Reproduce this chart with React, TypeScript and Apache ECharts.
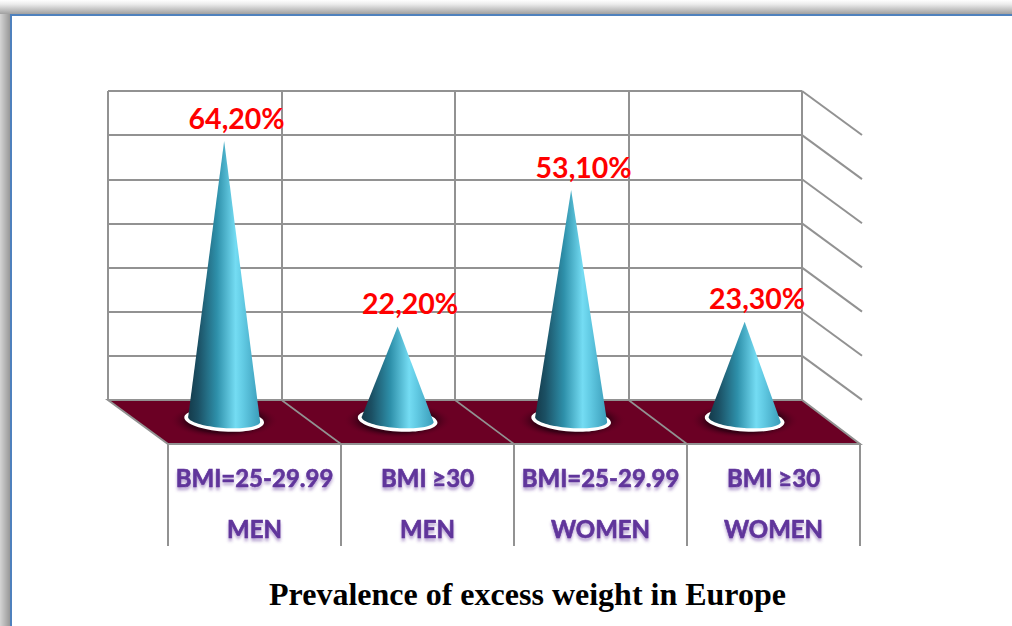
import React, { useEffect, useRef } from "react";
import * as echarts from "echarts";

const bmiLabels = ["BMI=25-29.99", "BMI ≥30", "BMI=25-29.99", "BMI ≥30"];
const sexLabels = ["MEN", "MEN", "WOMEN", "WOMEN"];
const prevalence = [64.2, 22.2, 53.1, 23.3];
const valueLabels = ["64,20%", "22,20%", "53,10%", "23,30%"];
const wallTicks = [10, 20, 30, 40, 50, 60, 70];
const titleText = "Prevalence of excess weight in Europe";

const W = 1012;
const H = 626;
const WALL = { left: 108, top: 91, width: 694, height: 309 };
const FRONT = { left: 168, top: 444, width: 692, height: 102 };
const DEPTH_X = 60;
const DEPTH_Y = 44;
const GRID_GREY = "#929292";

const coneFill = () =>
  new echarts.graphic.LinearGradient(0, 0, 1, 0, [
    { offset: 0, color: "#143a4a" },
    { offset: 0.14, color: "#1b5064" },
    { offset: 0.4, color: "#2e90aa" },
    { offset: 0.66, color: "#74dcf3" },
    { offset: 0.76, color: "#62cbe4" },
    { offset: 1, color: "#3a9cb9" },
  ]);

function renderFloor(params: any) {
  const c = params.coordSys;
  const bottom = c.y + c.height;
  const frontY = bottom + DEPTH_Y;
  const cells = bmiLabels.length;
  const children: any[] = [
    {
      type: "polygon",
      shape: {
        points: [
          [c.x, bottom],
          [c.x + c.width, bottom],
          [FRONT.left + FRONT.width, frontY],
          [FRONT.left, frontY],
        ],
      },
      style: { fill: "#6b0024", stroke: GRID_GREY, lineWidth: 2 },
    },
  ];
  for (let i = 1; i < cells; i++) {
    children.push({
      type: "line",
      shape: {
        x1: c.x + (c.width * i) / cells,
        y1: bottom,
        x2: FRONT.left + (FRONT.width * i) / cells,
        y2: frontY,
      },
      style: { stroke: GRID_GREY, lineWidth: 1.6 },
    });
  }
  return { type: "group", children };
}

function renderSideLine(params: any, api: any) {
  const c = params.coordSys;
  const y = api.coord([0, api.value(0)])[1];
  const x = c.x + c.width;
  return {
    type: "line",
    shape: { x1: x, y1: y, x2: x + DEPTH_X, y2: y + DEPTH_Y },
    style: { stroke: GRID_GREY, lineWidth: 2 },
  };
}

function renderCone(params: any, api: any) {
  const idx = api.value(0);
  const top = api.coord([idx, api.value(1)]);
  const zero = api.coord([idx, 0]);
  const band = api.size([1, 0])[0];
  const cx = top[0] + DEPTH_X * 0.49;
  const cy = zero[1] + 19.5;
  const apexY = top[1] + 24.5;
  const rx = band * 0.208;
  const ry = 8.5;
  const tilt = 0.07;
  const cos = Math.cos(tilt);
  const sin = Math.sin(tilt);
  const pts: number[][] = [[cx, apexY]];
  for (let k = 0; k <= 40; k++) {
    const t = (k / 40) * Math.PI;
    const ex = rx * Math.cos(t);
    const ey = ry * Math.sin(t);
    pts.push([cx + ex * cos - ey * sin, cy + ex * sin + ey * cos]);
  }
  return {
    type: "group",
    children: [
      {
        type: "ellipse",
        shape: { cx, cy: cy + 1, rx: band * 0.315, ry: 18 },
        style: {
          fill: new echarts.graphic.RadialGradient(0.5, 0.5, 0.5, [
            { offset: 0, color: "rgba(45,0,18,0.95)" },
            { offset: 0.68, color: "rgba(45,0,18,0.85)" },
            { offset: 1, color: "rgba(107,0,36,0)" },
          ]),
        },
      },
      {
        type: "ellipse",
        shape: { cx: 0, cy: 0, rx: band * 0.23, ry: 11.5 },
        x: cx,
        y: cy + 0.5,
        rotation: -tilt,
        style: { fill: "#ffffff" },
      },
      { type: "polygon", shape: { points: pts }, style: { fill: coneFill() } },
      {
        type: "text",
        x: cx + 12.5,
        y: apexY - 23.5,
        style: {
          text: valueLabels[idx],
          fill: "#ff0000",
          font: "700 28.5px Lato",
          align: "center",
          verticalAlign: "middle",
        },
      },
    ],
  };
}

export default function App() {
  const ref = useRef<HTMLDivElement>(null);
  useEffect(() => {
    document.body.style.margin = "0";
    const chart = echarts.init(ref.current!, undefined, { renderer: "svg" });
    chart.setOption({
      animation: false,
      backgroundColor: "#ffffff",
      title: {
        text: titleText,
        left: 522.5,
        top: 573,
        textAlign: "center",
        textStyle: {
          fontFamily: "Liberation Serif",
          fontWeight: "bold",
          fontSize: 32,
          color: "#000000",
        },
      },
      grid: [{ ...WALL }, { ...FRONT }],
      xAxis: [
        {
          type: "category",
          gridIndex: 0,
          data: bmiLabels,
          axisLine: { show: false },
          axisTick: { show: false },
          axisLabel: { show: false },
          splitLine: { show: true, interval: 0, lineStyle: { color: GRID_GREY, width: 2 } },
        },
        {
          type: "category",
          gridIndex: 1,
          position: "top",
          data: bmiLabels.map((b, i) => `${b}\n${sexLabels[i]}`),
          axisLine: { show: true, onZero: false, lineStyle: { color: GRID_GREY, width: 2 } },
          axisTick: { show: false },
          axisLabel: {
            show: true,
            inside: true,
            interval: 0,
            margin: 8,
            fontFamily: "Lato",
            fontWeight: "bold",
            fontSize: 24,
            lineHeight: 51,
            color: "#60359b",
            textBorderColor: "#60359b",
            textBorderWidth: 0.6,
            textShadowColor: "rgba(96,53,155,0.45)",
            textShadowBlur: 3,
            textShadowOffsetY: 3,
          },
          splitLine: { show: true, interval: 0, lineStyle: { color: GRID_GREY, width: 2 } },
        },
      ],
      yAxis: [
        {
          type: "value",
          gridIndex: 0,
          min: 0,
          max: 70,
          interval: 10,
          axisLine: { show: false },
          axisTick: { show: false },
          axisLabel: { show: false },
          splitLine: { show: true, lineStyle: { color: GRID_GREY, width: 2 } },
        },
        { type: "value", gridIndex: 1, min: 0, max: 1, show: false, splitLine: { show: false } },
      ],
      series: [
        {
          type: "custom",
          name: "side",
          xAxisIndex: 0,
          yAxisIndex: 0,
          z: 2,
          silent: true,
          data: wallTicks.map((t) => [t]),
          encode: { y: 0 },
          renderItem: renderSideLine,
        },
        {
          type: "custom",
          name: "floor",
          xAxisIndex: 0,
          yAxisIndex: 0,
          z: 3,
          silent: true,
          data: [[0]],
          encode: { y: 0 },
          renderItem: renderFloor,
        },
        {
          type: "custom",
          name: "Prevalence",
          xAxisIndex: 0,
          yAxisIndex: 0,
          z: 4,
          data: prevalence.map((v, i) => [i, v]),
          encode: { x: 0, y: 1 },
          renderItem: renderCone,
        },
      ],
      graphic: [
        {
          type: "rect",
          shape: { x: 0, y: 0, width: W, height: 14 },
          style: {
            fill: new echarts.graphic.LinearGradient(0, 0, 0, 1, [
              { offset: 0, color: "#ffffff" },
              { offset: 0.3, color: "#ececec" },
              { offset: 1, color: "#a0a0a0" },
            ]),
          },
        },
        {
          type: "rect",
          shape: { x: 0, y: 14, width: 10, height: H - 14 },
          style: {
            fill: new echarts.graphic.LinearGradient(0, 0, 1, 0, [
              { offset: 0, color: "#d4d4d4" },
              { offset: 1, color: "#989898" },
            ]),
          },
        },
        {
          type: "rect",
          shape: { x: 10, y: 14, width: W - 10, height: 2 },
          style: { fill: "#4f81bd" },
        },
        {
          type: "rect",
          shape: { x: 10, y: 14, width: 2, height: H - 14 },
          style: { fill: "#4f81bd" },
        },
      ],
    });
    return () => chart.dispose();
  }, []);
  return <div ref={ref} style={{ width: W, height: H, position: "fixed", left: 0, top: 0 }} />;
}
